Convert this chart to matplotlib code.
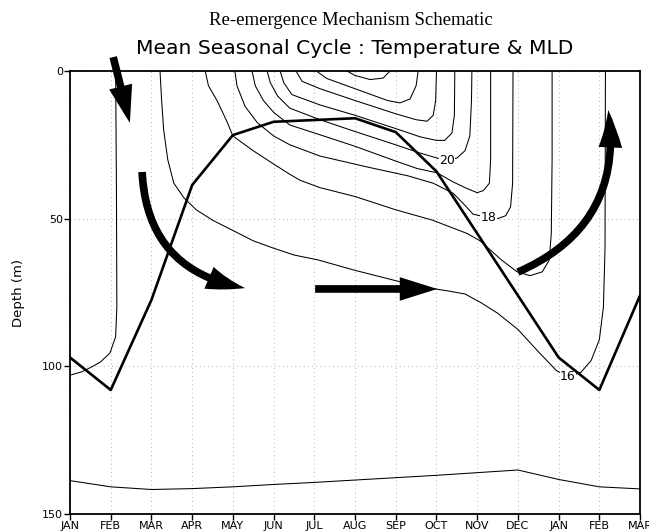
import matplotlib
matplotlib.use("Agg")
import matplotlib.pyplot as plt
from matplotlib.patches import FancyArrowPatch

# month axis: 0 = JAN ... 14 = MAR of the following year
month_labels = ["JAN", "FEB", "MAR", "APR", "MAY", "JUN", "JUL", "AUG",
                "SEP", "OCT", "NOV", "DEC", "JAN", "FEB", "MAR"]
depth_ticks = [0, 50, 100, 150]

# mixed layer depth (m), one value per month
mld_mon = list(range(15))
mld_dep = [97, 108, 77.5, 38.6, 21.7, 17.2, 16.6, 16.0, 20.7, 34, 55, 76, 97, 108, 76]

# isotherms (month, depth in m)
iso15_mon = list(range(15))
iso15_dep = [138.7, 140.8, 141.7, 141.4, 140.8, 140.0, 139.3, 138.5,
             137.7, 136.9, 136.0, 135.1, 138.3, 140.8, 141.5]

iso16w_mon = [1.12, 1.14, 1.15, 1.12, 0.98, 0.75, 0.56, 0.3, 0.0]
iso16w_dep = [0, 40, 80, 90, 95.5, 98.5, 100, 101.8, 103]

iso16_mon = [2.21, 2.25, 2.30, 2.40, 2.55, 2.80, 3.1, 3.5, 4.0, 4.5, 5.0, 5.5, 6.1,
             7.0, 8.0, 8.6, 9.3, 9.7, 10.1, 10.5, 11.0, 11.5, 11.95, 12.25, 12.55,
             12.8, 13.0, 13.1, 13.14, 13.15]
iso16_dep = [0, 10, 20, 30, 38, 43, 47, 50.5, 54, 57.5, 60, 62.3, 64,
             67.5, 71, 73, 74.5, 75.5, 78.5, 82, 87.5, 95, 101.5, 103.5, 102,
             98, 91, 80, 60, 0]

iso17_mon = [3.32, 3.40, 3.61, 3.85, 4.0, 4.5, 5.0, 5.4, 5.65, 6.14, 7.0, 8.0, 8.9,
             9.75, 10.07, 10.24, 10.6, 10.98, 11.3, 11.6, 11.77, 11.82, 11.84, 11.84]
iso17_dep = [0, 5, 10, 17, 22, 27, 31.5, 35, 37, 39.5, 42.5, 47, 50.5,
             55, 57.5, 59.6, 64, 68, 69.3, 68, 64, 55, 30, 0]

iso18_mon = [4.05, 4.1, 4.3, 4.6, 5.0, 5.4, 6.14, 7.3, 8.3, 8.92, 9.41, 9.7, 9.9,
             10.27, 10.5, 10.7, 10.82, 10.87, 10.88]
iso18_dep = [0, 5, 12, 17.5, 22, 25, 28.8, 32.5, 35.5, 38, 41.4, 45.5, 48.5,
             49.6, 50, 49, 46, 38, 0]

iso19_mon = [4.47, 4.55, 4.75, 5.0, 5.4, 6.14, 7.0, 8.0, 8.52, 9.02, 9.4, 9.75,
             10.0, 10.15, 10.3, 10.33, 10.33]
iso19_dep = [0, 5, 10, 14, 18.3, 21.6, 25.5, 30.5, 33, 34.5, 37.5, 39.8,
             41.2, 40.5, 38, 30, 0]

iso20_mon = [4.84, 4.92, 5.1, 5.4, 6.14, 7.0, 8.0, 8.6, 9.02, 9.26, 9.5, 9.7,
             9.82, 9.86, 9.87]
iso20_dep = [0, 4, 8.5, 12.6, 16.5, 20.5, 25, 27.8, 29.5, 30.2, 29.5, 27,
             22, 10, 0]

iso21_mon = [5.16, 5.25, 5.45, 6.14, 7.0, 8.0, 8.6, 9.0, 9.2, 9.38, 9.44, 9.45]
iso21_dep = [0, 4, 8, 11.5, 15, 19.5, 22.3, 23.5, 23.5, 21, 15, 0]

iso22_mon = [5.55, 5.7, 6.14, 7.0, 8.0, 8.5, 8.77, 8.92, 8.98, 9.0]
iso22_dep = [0, 3.5, 6, 10, 14.5, 16.5, 17, 15, 10, 0]

iso23_mon = [6.05, 6.3, 7.0, 7.8, 8.1, 8.35, 8.5, 8.55]
iso23_dep = [0, 2.5, 6, 10, 10.8, 9.5, 5, 0]

iso24_mon = [6.80, 7.0, 7.37, 7.69, 7.86]
iso24_dep = [0, 1.5, 2.9, 2.4, 0]

# contour labels: (text, month, depth)
label_text = ["20", "18", "16"]
label_mon = [9.26, 10.27, 12.23]
label_dep = [30.2, 49.6, 103.5]

# schematic arrows: start (month, depth) -> end (month, depth), curvature
arrow_start = [(1.06, -4.7), (1.77, 34.2), (6.02, 73.8), (11.0, 68.1)]
arrow_end = [(1.47, 17.6), (4.30, 73.5), (9.02, 73.8), (13.22, 13.2)]
arrow_rad = [0.0, 0.4, 0.0, 0.38]

fig = plt.figure(figsize=(6.49, 5.31), dpi=100)
ax = fig.add_axes([0.1079, 0.032, 0.8783, 0.8343])

ax.set_xlim(0, 14)
ax.set_ylim(150, 0)

isotherms = [
    (iso15_mon, iso15_dep), (iso16w_mon, iso16w_dep), (iso16_mon, iso16_dep),
    (iso17_mon, iso17_dep), (iso18_mon, iso18_dep), (iso19_mon, iso19_dep),
    (iso20_mon, iso20_dep), (iso21_mon, iso21_dep), (iso22_mon, iso22_dep),
    (iso23_mon, iso23_dep), (iso24_mon, iso24_dep),
]
for mon, dep in isotherms:
    ax.plot(mon, dep, color="black", lw=0.75, zorder=3)

for txt, mx, dy in zip(label_text, label_mon, label_dep):
    ax.text(mx, dy, txt, fontsize=9, ha="center", va="center", zorder=4,
            bbox=dict(facecolor="white", edgecolor="none", pad=0.4))

ax.plot(mld_mon, mld_dep, color="black", lw=1.9, zorder=5)

for (x0, y0), (x1, y1), rad in zip(arrow_start, arrow_end, arrow_rad):
    arr = FancyArrowPatch((x0, y0), (x1, y1),
                          arrowstyle="simple,head_length=27,head_width=17,tail_width=5.5",
                          connectionstyle=f"arc3,rad={rad}",
                          mutation_scale=1, color="black", lw=0,
                          shrinkA=0, shrinkB=0, zorder=6, clip_on=False)
    ax.add_patch(arr)

ax.set_xticks(range(15))
ax.set_xticklabels(month_labels)
ax.set_yticks(depth_ticks)
ax.tick_params(axis="both", direction="out", length=4, width=1, labelsize=8, pad=1)
ax.grid(True, color="#9a9a9a", lw=0.6, linestyle=(0, (1, 4)))
ax.set_axisbelow(True)
for sp in ax.spines.values():
    sp.set_linewidth(1.3)

ax.set_ylabel("Depth (m)", fontsize=9.5, labelpad=12)

fig.text(0.54, 0.962, "Re-emergence Mechanism Schematic", ha="center", va="center",
         fontsize=13.5, family="Liberation Serif")
fig.text(0.546, 0.909, "Mean Seasonal Cycle : Temperature & MLD", ha="center",
         va="center", fontsize=14.6)

fig.savefig("out.png", dpi=100)
